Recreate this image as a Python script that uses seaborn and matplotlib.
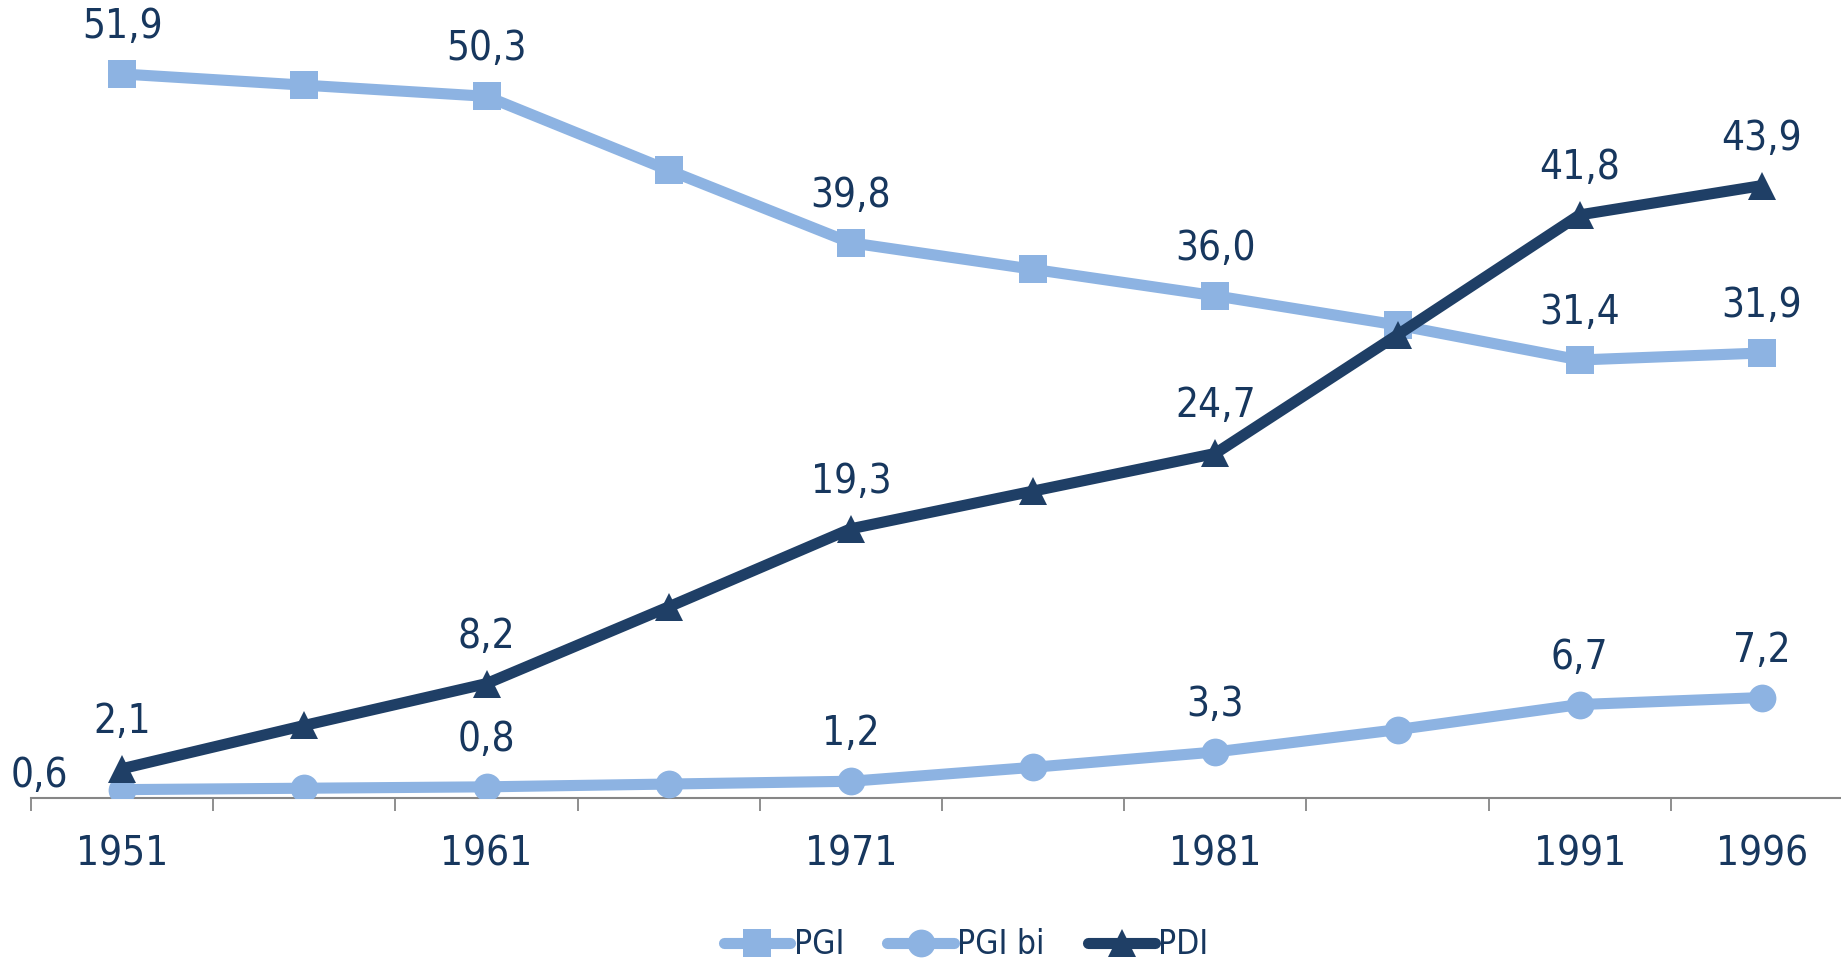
import matplotlib
matplotlib.use("Agg")
import matplotlib.pyplot as plt
import seaborn as sns
import pandas as pd

years = ["1951", "1956", "1961", "1966", "1971", "1976", "1981", "1986", "1991", "1996"]
shown_ticks = ["1951", "1961", "1971", "1981", "1991", "1996"]
pgi = [51.9, 51.1, 50.3, 45.0, 39.8, 37.9, 36.0, 33.9, 31.4, 31.9]
pgi_bi = [0.6, 0.7, 0.8, 1.0, 1.2, 2.2, 3.3, 4.9, 6.7, 7.2]
pdi = [2.1, 5.2, 8.2, 13.7, 19.3, 22.0, 24.7, 33.2, 41.8, 43.9]
series_names = ["PGI", "PGI bi", "PDI"]

sns.set_theme(style="white")
plt.rcParams["font.family"] = ["DejaVu Sans"]
plt.rcParams["font.stretch"] = "condensed"

navy = "#17375E"
light = "#8DB3E2"
dark = "#1F3F66"

rows = []
for name, vals in zip(series_names, [pgi, pgi_bi, pdi]):
    for i, (y, v) in enumerate(zip(years, vals)):
        rows.append({"pos": i, "year": y, "value": v, "series": name})
df = pd.DataFrame(rows)

fig = plt.figure(figsize=(18.41, 9.6), dpi=100)
ax = fig.add_axes([31 / 1841, 1 - 798 / 960, (1853 - 31) / 1841, 56 * 13.95 / 960])

palette = {"PGI": light, "PGI bi": light, "PDI": dark}
markers = {"PGI": "s", "PGI bi": "o", "PDI": "^"}
sns.lineplot(data=df, x="pos", y="value", hue="series", style="series",
             palette=palette, markers=markers, dashes=False, linewidth=8,
             markersize=20, markeredgewidth=0, ax=ax, legend=True, zorder=3)
for ln in ax.lines:
    ln.set_solid_capstyle("round")

ax.set_xlim(-0.5, len(years) - 0.5)
ax.set_ylim(0, 56)
ax.set_xlabel("")
ax.set_ylabel("")
for s in ["top", "right", "left"]:
    ax.spines[s].set_visible(False)
ax.spines["bottom"].set_color("#868686")
ax.spines["bottom"].set_linewidth(1.5)
ax.set_yticks([])
ax.set_xticks([i - 0.5 for i in range(len(years) + 1)], minor=False)
ax.set_xticklabels([])
ax.tick_params(axis="x", which="major", direction="out", length=9, width=1.3,
               color="#868686", bottom=True)
ax.set_xticks([years.index(t) for t in shown_ticks], minor=True)
ax.set_xticklabels(shown_ticks, minor=True)
ax.tick_params(axis="x", which="minor", length=0, pad=26, labelsize=29, labelcolor=navy)

for vals in [pgi, pgi_bi, pdi]:
    for y in shown_ticks:
        i = years.index(y)
        v = vals[i]
        txt = f"{v:.1f}".replace(".", ",")
        if vals is pgi_bi and i == 0:
            off = (-83, 14)
        else:
            off = (0, 47)
        ax.annotate(txt, (i, v), xytext=off, textcoords="offset pixels",
                    ha="center", va="center", fontsize=29, color=navy, zorder=5)

handles, labels = ax.get_legend_handles_labels()
ax.get_legend().remove()
leg = fig.legend(handles, labels, loc="center", bbox_to_anchor=(966 / 1841, 1 - 945 / 960),
                 ncol=3, frameon=False, fontsize=24, handlelength=2.0, columnspacing=1.3,
                 handletextpad=0.1)
for t in leg.get_texts():
    t.set_color(navy)

fig.savefig("out.png", dpi=100)
